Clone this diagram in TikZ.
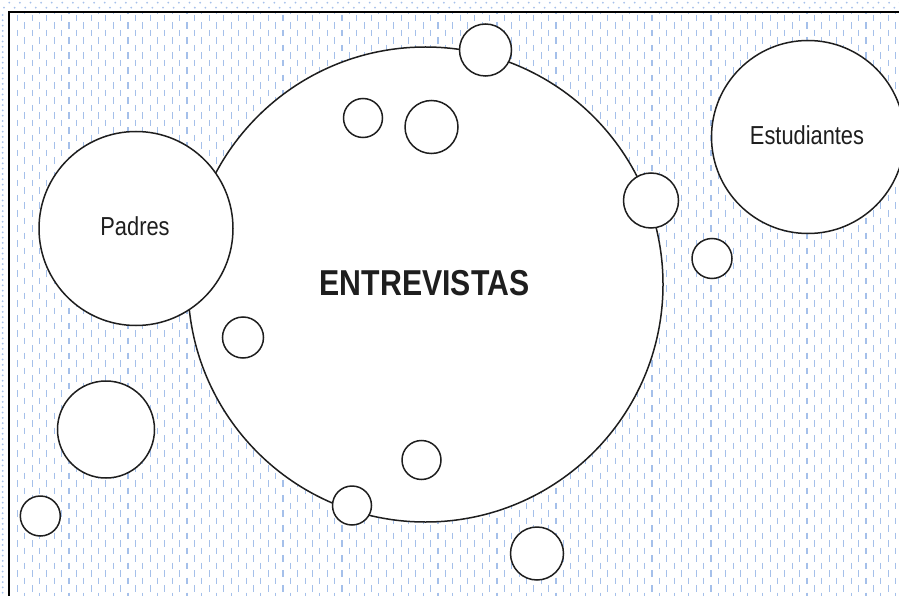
\documentclass[tikz,border=0pt]{standalone}
\usepackage{fontspec}
\setmainfont{Liberation Sans}
\newfontfamily\narrowfont[FakeStretch=0.84]{Liberation Sans}
\definecolor{patblue}{RGB}{165,192,234}
\definecolor{ink}{RGB}{30,30,30}
\begin{document}
\begin{tikzpicture}[x=1pt,y=-1pt,
  dashline/.style={patblue,line width=1.1pt,dash pattern=on 6.5pt off 8.5pt},
  bubble/.style={circle,draw=ink,line width=1.5pt,fill=white,inner sep=0pt},
  lbl/.style={anchor=base,inner sep=0pt,text=ink},
  framelines/.style={black,line width=1.1pt}]
\useasboundingbox (0,0) rectangle (899,596);
\begin{scope}
\clip (0,0) rectangle (899,596);
\fill[white] (0,0) rectangle (899,596);
% dotted strips
\foreach \k in {0,...,84} {
  \fill[patblue] ({9.3+10.6*\k},2.7) circle (1pt);
  \fill[patblue] ({4+10.6*\k},7.7) circle (1pt);
}
\foreach \k in {0,...,110} {
  \fill[patblue] (2.7,{15+5.3*\k}) circle (1pt);
}
% dashed pattern
\foreach \k in {0,...,60} {
  \draw[dashline,dash phase=12pt] ({17.3+14.76*\k},12) -- ({17.3+14.76*\k},596);
  \draw[dashline,dash phase=4.5pt] ({24.68+14.76*\k},12) -- ({24.68+14.76*\k},596);
}
% frame
\draw[framelines] (899,12) -- (9,12) -- (9,596);
% main circle
\node[bubble,minimum size=475pt] (main) at (425.5,284.5) {};
\node[lbl,font=\narrowfont\bfseries\fontsize{36}{40}\selectfont] (ent) at (424.5,295) {ENTREVISTAS};
% big circles
\node[bubble,minimum size=194pt] (padres) at (136,228.5) {};
\node[lbl,font=\narrowfont\fontsize{26}{30}\selectfont] (padrest) at (135,235) {Padres};
\node[bubble,minimum size=193pt] (estud) at (808,137) {};
\node[lbl,font=\narrowfont\fontsize{26}{30}\selectfont] (estudt) at (807,145) {Estudiantes};
% small circles
\node[bubble,minimum size=52pt] (c1) at (485.5,50) {};
\node[bubble,minimum size=39pt] (c2) at (363,118) {};
\node[bubble,minimum size=53pt] (c3) at (431.5,127) {};
\node[bubble,minimum size=55pt] (c4) at (651,200.5) {};
\node[bubble,minimum size=40pt] (c5) at (712,258.5) {};
\node[bubble,minimum size=41pt] (c6) at (243,337.5) {};
\node[bubble,minimum size=97pt] (c7) at (106,429.5) {};
\node[bubble,minimum size=40pt] (c8) at (40.3,516) {};
\node[bubble,minimum size=39pt] (c9) at (421.5,460) {};
\node[bubble,minimum size=39pt] (c10) at (352,505.5) {};
\node[bubble,minimum size=53pt] (c11) at (537,553.5) {};
\end{scope}
\end{tikzpicture}
\end{document}
